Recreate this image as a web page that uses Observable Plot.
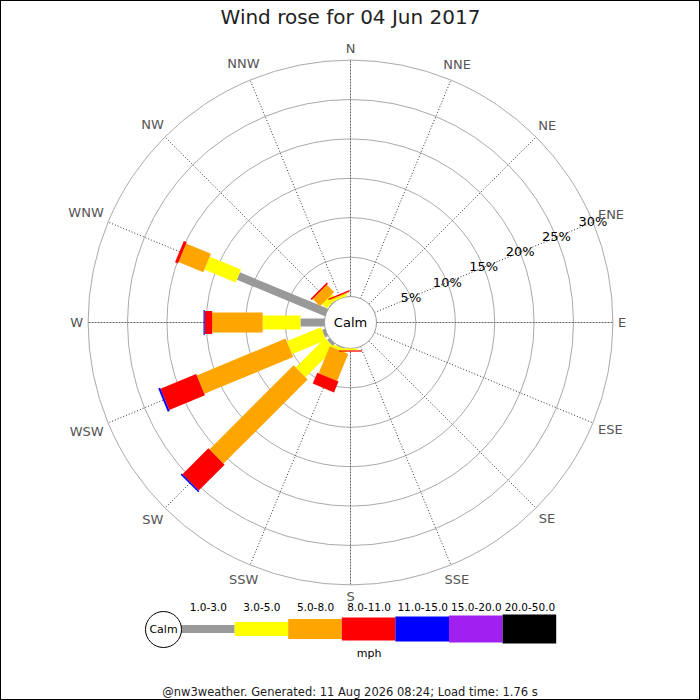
<!DOCTYPE html>
<html>
<head>
<meta charset="utf-8">
<script src="https://cdn.jsdelivr.net/npm/d3@7"></script>
<script src="https://cdn.jsdelivr.net/npm/@observablehq/plot@0.6"></script>
<style>
  html, body { margin: 0; padding: 0; background: #fff; }
  #wrap { position: relative; width: 700px; height: 700px; overflow: hidden; font-family: "DejaVu Sans", sans-serif; }
  #rose { position: absolute; left: 0; top: 0; }
  #legend { position: absolute; left: 0; top: 600px; }
  #footer { position: absolute; left: 0; top: 684px; width: 700px; height: 16px; line-height: 16px; text-align: center; font-size: 11.5px; color: #222; }
  #frame { position: absolute; left: 0; top: 0; width: 700px; height: 700px; box-sizing: border-box; border: 1px solid #000; pointer-events: none; }
</style>
</head>
<body>
<div id="wrap">
  <div id="rose"></div>
  <div id="legend"></div>
  <div id="footer"></div>
  <div id="frame"></div>
</div>
<script>
// ---------------- data ----------------
const title = "Wind rose for 04 Jun 2017";
const footerText = "@nw3weather. Generated: 11 Aug 2026 08:24; Load time: 1.76 s";
const directions = ["N","NNE","NE","ENE","E","ESE","SE","SSE","S","SSW","SW","WSW","W","WNW","NW","NNW"];
const speedBins = ["1.0-3.0","3.0-5.0","5.0-8.0","8.0-11.0","11.0-15.0","15.0-20.0","20.0-50.0"];
const speedUnit = "mph";
const ringTicks = [5, 10, 15, 20, 25, 30];
// percent of time per direction (N..NNW) for each speed bin
const pct_1_3   = [0,0,0,0,0,0,0,0, 0.00, 0.10, 0.40, 0.40, 3.05, 12.10, 0.10, 0.00];
const pct_3_5   = [0,0,0,0,0,0,0,0, 0.20, 0.40, 5.25, 4.70, 4.80,  4.30, 0.80, 0.30];
const pct_5_8   = [0,0,0,0,0,0,0,0, 0.05, 3.70,15.10,12.20, 6.40,  3.40, 1.30, 0.10];
const pct_8_11  = [0,0,0,0,0,0,0,0, 0.15, 1.50, 4.65, 4.90, 0.95,  0.40, 0.20, 0.15];
const pct_11_15 = [0,0,0,0,0,0,0,0, 0.00, 0.00, 0.20, 0.25, 0.15,  0.00, 0.00, 0.00];
const pct_15_20 = [0,0,0,0,0,0,0,0, 0,0,0,0,0,0,0,0];
const pct_20_50 = [0,0,0,0,0,0,0,0, 0,0,0,0,0,0,0,0];

// ---------------- styles ----------------
const binColors = ["#999999","#ffff00","#ffa500","#ff0000","#0000ff","#a020f0","#000000"];
const barWidths = [8, 14, 20, 23, 25, 27, 29];
const pxPerPct = 7.88;       // pixels per percent
const calmPx = 26;           // calm circle radius in px
const cx = 350, cy = 322;    // rose centre in px
const W = 700, H = 600;
const font = "DejaVu Sans";
const charW = {N: 0.748, E: 0.632, S: 0.635, W: 0.989};

// ---------------- build ----------------
const series = [pct_1_3, pct_3_5, pct_5_8, pct_8_11, pct_11_15, pct_15_20, pct_20_50];
const calmU = calmPx / pxPerPct;
const rad = d => d * Math.PI / 180;
const angleOf = i => i * 360 / directions.length;

const segs = [];
directions.forEach((dir, i) => {
  let acc = 0;
  series.forEach((s, b) => {
    const v = s[i];
    if (v > 0) segs.push({dir, bin: b, a: angleOf(i), u0: calmU + acc, u1: calmU + acc + v});
    acc += v;
  });
});

const xDomain = [-cx / pxPerPct, (W - cx) / pxPerPct];
const yDomain = [-(H - cy) / pxPerPct, cy / pxPerPct];
const outerU = calmU + d3.max(ringTicks);

const labelRows = directions.map((d, i) => {
  const a = rad(angleOf(i));
  const w = [...d].reduce((s, c) => s + charW[c], 0) * 13;
  const rPx = outerU * pxPerPct + 5 + Math.abs(Math.sin(a)) * w / 2 + Math.abs(Math.cos(a)) * 6.5;
  return {d, x: rPx / pxPerPct * Math.sin(a), y: rPx / pxPerPct * Math.cos(a)};
});

const spokes = directions.map((d, i) => ({d, a: rad(angleOf(i)), cardinal: i % 4 === 0}));
const tickAngle = rad(angleOf(directions.indexOf("ENE")));

const marks = [
  // rings
  Plot.dot(ringTicks, {x: () => 0, y: () => 0, r: d => (calmU + d) * pxPerPct, fill: "none", stroke: "#aaa", strokeWidth: 1}),
  // spokes
  Plot.link(spokes.filter(s => !s.cardinal), {
    x1: s => calmU * Math.sin(s.a), y1: s => calmU * Math.cos(s.a),
    x2: s => outerU * Math.sin(s.a), y2: s => outerU * Math.cos(s.a),
    stroke: "#333", strokeWidth: 1, strokeDasharray: "1,2"
  }),
  Plot.link(spokes.filter(s => s.cardinal), {
    x1: s => calmU * Math.sin(s.a), y1: s => calmU * Math.cos(s.a),
    x2: s => outerU * Math.sin(s.a), y2: s => outerU * Math.cos(s.a),
    stroke: "#666", strokeWidth: 1, strokeDasharray: "2,1"
  }),
  // calm circle
  Plot.dot([0], {x: () => 0, y: () => 0, r: () => calmPx, fill: "#fff", stroke: "#999", strokeWidth: 1}),
  // bars
  ...speedBins.map((bin, b) => Plot.link(segs.filter(s => s.bin === b), {
    x1: s => s.u0 * Math.sin(rad(s.a)), y1: s => s.u0 * Math.cos(rad(s.a)),
    x2: s => s.u1 * Math.sin(rad(s.a)), y2: s => s.u1 * Math.cos(rad(s.a)),
    stroke: binColors[b], strokeWidth: barWidths[b], strokeLinecap: "butt"
  })),
  Plot.text(["Calm"], {x: () => 0, y: () => 0, text: d => d, fontSize: 13, fill: "#000"}),
  // ring labels
  Plot.text(ringTicks, {
    x: d => (calmU + d) * Math.sin(tickAngle), y: d => (calmU + d) * Math.cos(tickAngle),
    text: d => d + "%", fontSize: 13, fill: "#000"
  }),
  // direction labels
  Plot.text(labelRows, {x: "x", y: "y", text: "d", fontSize: 13, fill: "#555"}),
  // title
  Plot.text([title], {frameAnchor: "top", dy: 17, text: d => d, fontSize: 20, fill: "#222", lineAnchor: "middle"})
];

const rose = Plot.plot({
  width: W, height: H, margin: 0,
  x: {domain: xDomain, axis: null},
  y: {domain: yDomain, axis: null},
  r: {type: "identity"},
  style: {fontFamily: font, background: "transparent", overflow: "visible"},
  marks
});
document.getElementById("rose").appendChild(rose);

// ---------------- legend ----------------
const LH = 70, legCy = 29, binPx = 53.6, legX0 = 181, legCalmR = 18;
const legRows = speedBins.map((bin, i) => ({bin, i}));
const legend = Plot.plot({
  width: W, height: LH, margin: 0,
  x: {domain: [-legX0 / binPx, (W - legX0) / binPx], axis: null},
  y: {domain: [-(LH - legCy), legCy], axis: null},
  r: {type: "identity"},
  style: {fontFamily: font, background: "transparent", overflow: "visible"},
  marks: [
    Plot.rect(legRows, {x1: d => d.i, x2: d => d.i + 1, y1: d => -barWidths[d.i] / 2, y2: d => barWidths[d.i] / 2, fill: d => binColors[d.i]}),
    Plot.dot([0], {x: () => -legCalmR / binPx, y: () => 0, r: () => legCalmR, fill: "#fff", stroke: "#000", strokeWidth: 1}),
    Plot.text(["Calm"], {x: () => -legCalmR / binPx, y: () => 0, text: d => d, fontSize: 11, fill: "#000"}),
    Plot.text(legRows, {x: d => d.i + 0.5, frameAnchor: "top", dy: 7, text: "bin", fontSize: 10.5, fill: "#000", lineAnchor: "middle"}),
    Plot.text([speedUnit], {x: () => (speedBins.length) / 2, frameAnchor: "top", dy: 53, text: d => d, fontSize: 11, fill: "#000", lineAnchor: "middle"})
  ]
});
document.getElementById("legend").appendChild(legend);
document.getElementById("footer").textContent = footerText;
</script>
</body>
</html>
